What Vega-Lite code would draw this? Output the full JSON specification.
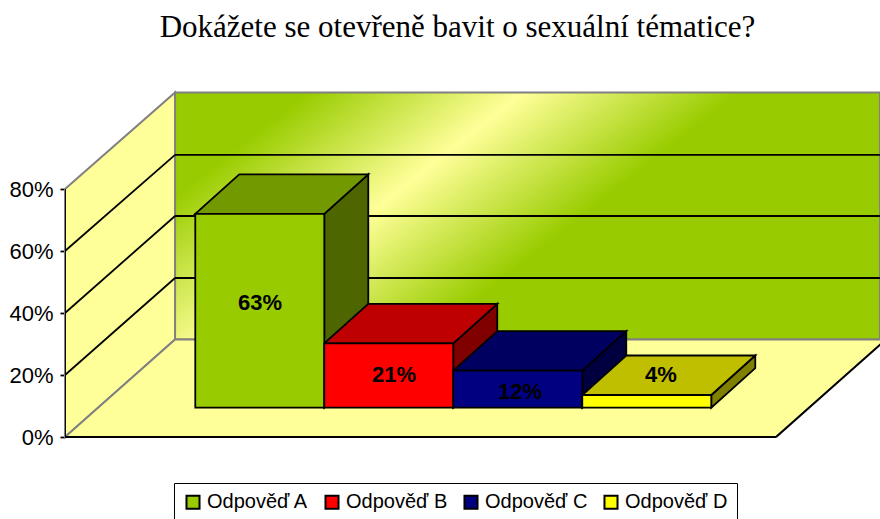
{"$schema":"https://vega.github.io/schema/vega-lite/v6.json","width":815,"height":519,"autosize":"none","padding":{"left":65,"top":0,"right":0,"bottom":0},"background":"white","view":{"stroke":null},
"title":{"text":"Dokážete se otevřeně bavit o sexuální tématice?","font":"Liberation Serif","fontSize":31,"fontWeight":"normal","color":"black","anchor":"middle","dx":-15,"offset":-44},
"config":{"view":{"stroke":null}},
"datasets":{
"wall":[{"x":0.853,"x2":6.318,"y":31.45,"y2":111.13}],
"side":[{"x":0,"y":80,"y2":0},{"x":0.853,"y":111.13,"y2":31.45}],
"floor":[{"y":0,"x":0,"x2":5.512},{"y":31.45,"x":0.853,"x2":6.364}],
"grid":[
{"id":"b20","x":0.853,"y":51.3},{"id":"b20","x":6.318,"y":51.3},
{"id":"b40","x":0.853,"y":71.3},{"id":"b40","x":6.318,"y":71.3},
{"id":"b60","x":0.853,"y":91},{"id":"b60","x":6.318,"y":91},
{"id":"l20","x":0,"y":20},{"id":"l20","x":0.853,"y":51.3},
{"id":"l40","x":0,"y":40},{"id":"l40","x":0.853,"y":71.3},
{"id":"l60","x":0,"y":60},{"id":"l60","x":0.853,"y":91},
{"id":"axis","x":0,"y":0},{"id":"axis","x":0,"y":80},
{"id":"bottom","x":0,"y":0},{"id":"bottom","x":5.512,"y":0},
{"id":"right","x":5.512,"y":0},{"id":"right","x":6.364,"y":31.45}],
"sides":[
{"face":"A side","x":2.01,"y":72,"y2":9.45},{"face":"A side","x":2.351,"y":84.74,"y2":22.19},
{"face":"B side","x":3.01,"y":30.2,"y2":9.45},{"face":"B side","x":3.351,"y":42.94,"y2":22.19},
{"face":"C side","x":4.01,"y":21.4,"y2":9.45},{"face":"C side","x":4.351,"y":34.14,"y2":22.19},
{"face":"D side","x":5.01,"y":13.55,"y2":9.45},{"face":"D side","x":5.351,"y":26.29,"y2":22.19}],
"tops":[
{"face":"A top","y":72,"x":1.01,"x2":2.01},{"face":"A top","y":84.74,"x":1.351,"x2":2.351},
{"face":"B top","y":30.2,"x":2.01,"x2":3.01},{"face":"B top","y":42.94,"x":2.351,"x2":3.351},
{"face":"C top","y":21.4,"x":3.01,"x2":4.01},{"face":"C top","y":34.14,"x":3.351,"x2":4.351},
{"face":"D top","y":13.55,"x":4.01,"x2":5.01},{"face":"D top","y":26.29,"x":4.351,"x2":5.351}],
"fronts":[
{"face":"Odpověď A","value":63,"x":1.01,"x2":2.01,"y":72,"y2":9.45},
{"face":"Odpověď B","value":21,"x":2.01,"x2":3.01,"y":30.2,"y2":9.45},
{"face":"Odpověď C","value":12,"x":3.01,"x2":4.01,"y":21.4,"y2":9.45},
{"face":"Odpověď D","value":4,"x":4.01,"x2":5.01,"y":13.55,"y2":9.45}],
"labels":[
{"label":"63%","x":1.512,"y":43.2},
{"label":"21%","x":2.55,"y":20},
{"label":"12%","x":3.527,"y":14.5},
{"label":"4%","x":4.62,"y":20}]
},
"encoding":{
"x":{"field":"x","type":"quantitative","scale":{"domain":[0,6.318],"nice":false,"zero":false},"axis":null},
"y":{"field":"y","type":"quantitative","scale":{"domain":[-26.45,140.97],"nice":false,"zero":false},
"axis":{"title":null,"values":[0,20,40,60,80],"labelExpr":"datum.value + '%'","domain":false,"grid":false,"ticks":true,"tickColor":"black","tickSize":5,"tickWidth":1.8,"labelFont":"Liberation Sans","labelFontSize":22,"labelColor":"black","labelPadding":7}}
},
"layer":[
{"data":{"name":"wall"},"mark":{"type":"rect","stroke":"#808080","strokeWidth":2,"fill":{"gradient":"linear","x1":0.007,"y1":0.411,"x2":0.515,"y2":0.637,"stops":[{"offset":0,"color":"#99CC00"},{"offset":0.5,"color":"#FFFF99"},{"offset":1,"color":"#99CC00"}]}},"encoding":{"x2":{"field":"x2"},"y2":{"field":"y2"}}},
{"data":{"name":"side"},"mark":{"type":"area","orient":"vertical","fill":"#FFFF99","stroke":"#808080","strokeWidth":2},"encoding":{"y2":{"field":"y2"}}},
{"data":{"name":"floor"},"mark":{"type":"area","orient":"horizontal","fill":"#FFFF99","stroke":"#808080","strokeWidth":2,"clip":true},"encoding":{"x2":{"field":"x2"}}},
{"data":{"name":"grid"},"mark":{"type":"line","color":"black","strokeWidth":1.8,"clip":true},"encoding":{"detail":{"field":"id"}}},
{"data":{"name":"sides"},"mark":{"type":"area","orient":"vertical","stroke":"black","strokeWidth":1.8},"encoding":{"y2":{"field":"y2"},"color":{"field":"face","type":"nominal"}}},
{"data":{"name":"tops"},"mark":{"type":"area","orient":"horizontal","stroke":"black","strokeWidth":1.8},"encoding":{"x2":{"field":"x2"},"color":{"field":"face","type":"nominal"}}},
{"data":{"name":"fronts"},"mark":{"type":"rect","stroke":"black","strokeWidth":1.8},"encoding":{"x2":{"field":"x2"},"y2":{"field":"y2"},"color":{"field":"face","type":"nominal","scale":{"domain":["Odpověď A","Odpověď B","Odpověď C","Odpověď D","A top","B top","C top","D top","A side","B side","C side","D side"],"range":["#99CC00","#FF0000","#000080","#FFFF00","#739900","#BF0000","#000060","#BFBF00","#4D6600","#800000","#000040","#808000"]},"legend":{"values":["Odpověď A","Odpověď B","Odpověď C","Odpověď D"],"title":null,"orient":"none","legendX":109,"legendY":483,"direction":"horizontal","columns":4,"symbolType":"square","symbolSize":170,"symbolStrokeColor":"black","symbolStrokeWidth":2,"labelFont":"Liberation Sans","labelFontSize":20,"labelColor":"black","labelLimit":200,"strokeColor":"black","fillColor":"white","padding":9,"columnPadding":12,"symbolOffset":0}}}},
{"data":{"name":"labels"},"mark":{"type":"text","font":"Liberation Sans","fontSize":22,"fontWeight":"bold","color":"black","align":"center","baseline":"middle"},"encoding":{"text":{"field":"label"}}}
]}
